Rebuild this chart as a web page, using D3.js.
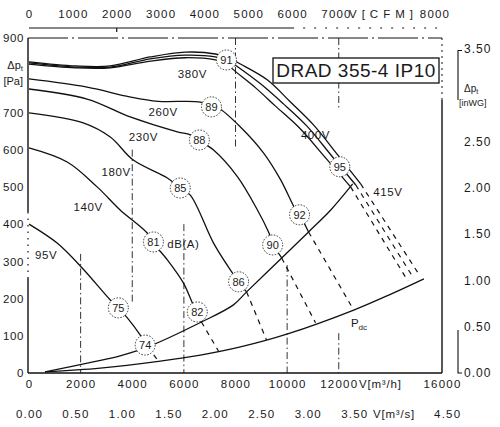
<!DOCTYPE html>
<html>
<head>
<meta charset="utf-8">
<script src="https://cdn.jsdelivr.net/npm/d3@7"></script>
<style>
  body { margin: 0; background: #fff; }
  svg text { font-family: "Liberation Sans", Arial, sans-serif; fill: #1a1a1a; }
</style>
</head>
<body>
<div id="chart"></div>
<script>
var WIDTH = 500,
    HEIGHT = 427;

// tick values of the four scales
var vTicks = [0, 2000, 4000, 6000, 8000, 10000, 12000, 16000];
var pTicks = [0, 100, 200, 300, 400, 500, 600, 700, 900];
var cfmTicks = [0, 1000, 2000, 3000, 4000, 5000, 6000, 7000];
var m3sTicks = [0, 0.5, 1, 1.5, 2, 2.5, 3, 3.5, 4.5];
var inwgTicks = [0, 0.5, 1, 1.5, 2, 2.5, 3.5];

// fan curves, [V m3/h, dp Pa]
var curve415 = [[0,836],[1790,825],[3150,825],[4700,849],[6060,862],[7220,857],[7800,844],[8190,830],[9240,787],[10130,728],[11030,666],[11960,586],[12850,508]];
var curve400 = [[0,833],[1790,822],[3150,822],[4700,844],[6060,854],[7220,849],[7800,836],[8040,825],[8970,777],[9860,723],[10760,664],[11730,583],[12660,505]];
var curve380 = [[0,830],[1790,820],[3150,820],[4700,838],[6060,847],[7220,841],[7730,828],[7880,817],[8780,766],[9550,717],[10480,658],[11490,578],[12460,500]];
var curve260 = [[0,790],[2250,768],[3900,742],[5000,730],[6640,728],[7030,717],[7340,712],[8190,661],[9090,591],[9750,519],[10330,438],[10520,420],[10830,379]];
var curve230 = [[0,763],[2250,736],[3920,688],[5750,648],[6250,640],[6560,626],[7150,599],[8080,527],[8850,438],[9280,379],[9480,344],[9790,309]];
var curve180 = [[0,699],[2100,672],[3150,634],[4040,572],[5360,524],[5860,497],[6250,478],[7150,349],[7800,277],[8120,245],[8430,218]];
var curve140 = [[0,605],[1480,567],[2640,500],[3530,438],[4580,376],[4820,349],[5360,304],[5980,242],[6330,188],[6520,161],[6680,137]];
var curve95 = [[0,400],[1090,349],[2060,282],[3150,196],[3460,175],[3810,148],[4310,102],[4600,70]];

// system curve and dynamic pressure
var systemCurve = [[620,3],[2490,30],[3530,46],[4600,70],[6680,137],[7920,183],[8430,218],[9790,309],[10830,379],[11690,438],[12540,508]];
var pdcCurve = [[620,3],[2760,13],[5090,32],[6640,48],[8190,70],[10020,105],[12580,169],[14020,212],[15300,253]];

// dashed continuation below the system curve
var ext95 = [[4600,70],[5010,32]];
var ext140 = [[6680,137],[7340,59]];
var ext180 = [[8430,218],[9200,89]];
var ext230 = [[9790,309],[11100,135]];
var ext260 = [[10830,379],[12580,169]];
var ext380 = [[12460,500],[14680,247]];
var ext400 = [[12660,505],[14870,258]];
var ext415 = [[12850,508],[15070,269]];

// noise levels dB(A)
var dbLabels = ['91', '95', '89', '92', '88', '90', '85', '86', '81', '82', '75', '74'];
var dbV = [7650, 12040, 7070, 10480, 6600, 9440, 5860, 8120, 4820, 6520, 3460, 4500];
var dbP = [841, 554, 715, 425, 626, 344, 497, 245, 352, 164, 175, 75];

// voltage labels
var voltLabels = ['380V', '400V', '415V', '260V', '230V', '180V', '140V', '95V'];
var voltV = [6330, 11100, 13900, 5200, 4430, 3380, 2290, 660];
var voltP = [803, 639, 486, 701, 634, 540, 446, 317];

// broken grid lines from the print
var gridV = [2000, 4000, 6000, 8000, 10000, 12000, 12000];
var gridFrom = [320, 600, 400, 900, 290, 900, 107];
var gridTo = [0, 190, 0, 600, 0, 706, 0];

var svg = d3.select('#chart').append('svg')
            .attr('width', WIDTH)
            .attr('height', HEIGHT);

var x = d3.scaleLinear().domain([0, 16000]).range([29, 442]),
    y = d3.scaleLinear().domain([0, 900]).range([373, 38]);
var xCfm = d3.scaleLinear().domain([0, 8000]).range([x(0), x(8000 * 1.699)]);
var xM3s = d3.scaleLinear().domain([0, 4.5]).range([x(0), x(4.5 * 3600)]);
var yInwg = d3.scaleLinear().domain([0, 3.5]).range([y(0), y(3.5 * 249.1)]);

var INK = '#111';

// grid
gridV.forEach((v, i) => {
  svg.append('line')
     .attr('x1', x(v)).attr('x2', x(v))
     .attr('y1', y(gridFrom[i])).attr('y2', y(gridTo[i]))
     .attr('stroke', '#333').attr('stroke-width', 1)
     .attr('stroke-dasharray', '7,3,1.5,3');
});

// frame
svg.append('line').attr('x1', 28).attr('x2', 28).attr('y1', y(900)).attr('y2', 212)
   .attr('stroke', INK).attr('stroke-width', 1.4);
svg.append('line').attr('x1', 28).attr('x2', 28).attr('y1', 212).attr('y2', 278)
   .attr('stroke', INK).attr('stroke-width', 1.2).attr('stroke-dasharray', '1.5,5');
svg.append('line').attr('x1', 28).attr('x2', 28).attr('y1', 278).attr('y2', y(0))
   .attr('stroke', INK).attr('stroke-width', 1.4);
svg.append('line').attr('x1', 28).attr('x2', x(16000)).attr('y1', y(0)).attr('y2', y(0))
   .attr('stroke', INK).attr('stroke-width', 1.4);
svg.append('line').attr('x1', 28).attr('x2', x(16000)).attr('y1', y(900)).attr('y2', y(900))
   .attr('stroke', INK).attr('stroke-width', 1.1).attr('stroke-dasharray', '40,4,2,4');
svg.append('line').attr('x1', x(16000)).attr('x2', x(16000)).attr('y1', y(900)).attr('y2', 100)
   .attr('stroke', INK).attr('stroke-width', 1).attr('stroke-dasharray', '2,4');
svg.append('line').attr('x1', x(16000)).attr('x2', x(16000)).attr('y1', 100).attr('y2', y(0))
   .attr('stroke', INK).attr('stroke-width', 1.4);

// top CFM axis line
svg.append('line').attr('x1', 29).attr('x2', xCfm(6000)).attr('y1', 28).attr('y2', 28)
   .attr('stroke', INK).attr('stroke-width', 1.2);
svg.append('line').attr('x1', xCfm(6000)).attr('x2', x(16000)).attr('y1', 28).attr('y2', 28)
   .attr('stroke', INK).attr('stroke-width', 1).attr('stroke-dasharray', '2,9');
svg.append('line').attr('x1', xCfm(2000)).attr('x2', xCfm(2000)).attr('y1', 28).attr('y2', 32)
   .attr('stroke', INK).attr('stroke-width', 1.2);

// right axis pieces
svg.append('path').attr('d', `M462,${yInwg(3.5) + 2}H458V100`)
   .attr('fill', 'none').attr('stroke', INK).attr('stroke-width', 1.1);
svg.append('path').attr('d', `M458,330V${yInwg(0)}H462`)
   .attr('fill', 'none').attr('stroke', INK).attr('stroke-width', 1.1);

// lines
var line = d3.line()
             .x(d => x(d[0]))
             .y(d => y(d[1]))
             .curve(d3.curveCatmullRom.alpha(0.5));

[curve415, curve400, curve380, curve260, curve230, curve180, curve140, curve95, systemCurve, pdcCurve]
  .forEach(c => {
    svg.append('path')
       .datum(c)
       .attr('d', line)
       .attr('fill', 'none')
       .attr('stroke', INK)
       .attr('stroke-width', 1.3);
  });

[ext95, ext140, ext180, ext230, ext260, ext380, ext400, ext415].forEach(c => {
  svg.append('path')
     .datum(c)
     .attr('d', d3.line().x(d => x(d[0])).y(d => y(d[1])))
     .attr('fill', 'none')
     .attr('stroke', INK)
     .attr('stroke-width', 1.2)
     .attr('stroke-dasharray', '5,5');
});

// dB circles
dbLabels.forEach((t, i) => {
  svg.append('circle')
     .attr('cx', x(dbV[i])).attr('cy', y(dbP[i])).attr('r', 10)
     .attr('fill', '#fff').attr('stroke', '#333')
     .attr('stroke-width', 1).attr('stroke-dasharray', '1.5,1.5');
  svg.append('text')
     .attr('x', x(dbV[i])).attr('y', y(dbP[i]))
     .attr('dy', '0.36em')
     .attr('text-anchor', 'middle')
     .style('font-size', '11px')
     .text(t);
});

voltLabels.forEach((t, i) => {
  svg.append('text')
     .attr('x', x(voltV[i])).attr('y', y(voltP[i]))
     .attr('dy', '0.36em')
     .attr('text-anchor', 'middle')
     .style('font-size', '11.5px')
     .style('letter-spacing', '0.6px')
     .text(t);
});

svg.append('text').attr('x', x(5980)).attr('y', y(346)).attr('dy', '0.36em')
   .attr('text-anchor', 'middle').style('font-size', '11.5px').style('letter-spacing', '0.6px')
   .text('dB(A)');

var pdc = svg.append('text').attr('x', x(12470)).attr('y', y(124))
             .style('font-size', '11.5px');
pdc.append('tspan').text('P');
pdc.append('tspan').attr('dy', 3).style('font-size', '8px').text('dc');

// title box
svg.append('rect').attr('x', 273).attr('y', 58).attr('width', 166).attr('height', 25)
   .attr('fill', '#fff').attr('stroke', INK).attr('stroke-width', 1.3);
svg.append('text').attr('x', 356).attr('y', 77).attr('text-anchor', 'middle')
   .style('font-size', '19px').style('letter-spacing', '0.5px')
   .text('DRAD 355-4 IP10');

// axes
function styleAxis(g, size, spacing) {
  g.select('.domain').remove();
  g.selectAll('text')
   .style('font-size', size)
   .style('letter-spacing', spacing)
   .attr('fill', '#1a1a1a');
}

svg.append('g')
   .attr('transform', 'translate(0,380)')
   .call(d3.axisBottom(x).tickValues(vTicks).tickSize(0).tickPadding(0).tickFormat(d3.format('d')))
   .call(g => styleAxis(g, '11.5px', '1.2px'));

svg.append('g')
   .attr('transform', 'translate(0,410)')
   .call(d3.axisBottom(xM3s).tickValues(m3sTicks).tickSize(0).tickPadding(0).tickFormat(d3.format('.2f')))
   .call(g => styleAxis(g, '11.5px', '1.2px'));

svg.append('g')
   .attr('transform', 'translate(0,18)')
   .call(d3.axisTop(xCfm).tickValues(cfmTicks).tickSize(0).tickPadding(0).tickFormat(d3.format('d')))
   .call(g => styleAxis(g, '11.5px', '1.2px'));

svg.append('g')
   .attr('transform', 'translate(24,0)')
   .call(d3.axisLeft(y).tickValues(pTicks).tickSize(0).tickPadding(0))
   .call(g => styleAxis(g, '11.5px', '0.6px'));

svg.append('g')
   .attr('transform', 'translate(464,0)')
   .call(d3.axisRight(yInwg).tickValues(inwgTicks).tickSize(0).tickPadding(0).tickFormat(d3.format('.2f')))
   .call(g => styleAxis(g, '12px', '1px'));

// unit labels
svg.append('text').attr('x', 349).attr('y', 18).style('font-size', '11.5px')
   .style('letter-spacing', '5px').text('V[CFM]');
svg.append('text').attr('x', 435).attr('y', 18).attr('text-anchor', 'middle')
   .style('font-size', '11.5px').style('letter-spacing', '1.2px').text('8000');
svg.append('text').attr('x', 359).attr('y', 380).attr('dy', '0.71em')
   .style('font-size', '11.5px').style('letter-spacing', '0.8px').text('V[m³/h]');
svg.append('text').attr('x', 373).attr('y', 410).attr('dy', '0.71em')
   .style('font-size', '11.5px').style('letter-spacing', '0.8px').text('V[m³/s]');

var dpL = svg.append('text').attr('x', 23).attr('y', 69).attr('text-anchor', 'end')
             .style('font-size', '11px');
dpL.append('tspan').text('Δp');
dpL.append('tspan').attr('dy', 2).style('font-size', '8px').text('t');
svg.append('text').attr('x', 23).attr('y', 85).attr('text-anchor', 'end')
   .style('font-size', '11px').text('[Pa]');

var dpR = svg.append('text').attr('x', 464).attr('y', 92).style('font-size', '10px');
dpR.append('tspan').text('Δp');
dpR.append('tspan').attr('dy', 2).style('font-size', '7px').text('t');
svg.append('text').attr('x', 459).attr('y', 106).style('font-size', '9px').text('[inWG]');
</script>
</body>
</html>
